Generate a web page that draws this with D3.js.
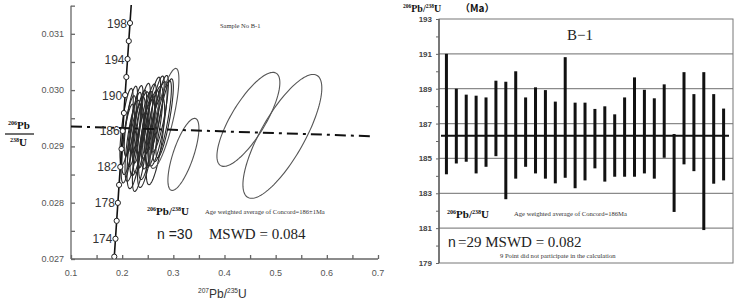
<!DOCTYPE html>
<html><head><meta charset="utf-8">
<script src="https://cdn.jsdelivr.net/npm/d3@7"></script>
<style>body{margin:0;background:#fff}svg{display:block}</style>
</head><body>
<script>
// ---------- Left chart: concordia ----------
const concAges = [170,172,174,176,178,180,182,184,186,188,190,192,194,196,198,200];
const concX = [0.18226,0.18459,0.18692,0.18926,0.19161,0.19396,0.19631,0.19867,0.20103,0.20340,0.20577,0.20815,0.21053,0.21292,0.21531,0.21771];
const concY = [0.026722,0.027041,0.027359,0.027678,0.027997,0.028316,0.028635,0.028954,0.029274,0.029593,0.029912,0.030232,0.030552,0.030871,0.031191,0.031511];
const concLabelAges = [174,178,182,186,190,194,198];
const markerAges = [172,174,176,178,180,182,184,186,188,190,192,194,196,198];
// ellipses: centre (207/235, 206/238), half extents, correlation
const ellCx = [0.2086,0.2134,0.217,0.2206,0.2242,0.2278,0.2302,0.2338,0.2374,0.241,0.2446,0.2482,0.2518,0.2554,0.259,0.2626,0.2662,0.2698,0.2734,0.2782,0.283,0.2254,0.2470,0.265,0.235,0.211,0.2826,0.3197,0.4467,0.5131];
const ellCy = [0.02935,0.02920,0.02945,0.02910,0.02930,0.02948,0.02918,0.02935,0.02925,0.02950,0.02930,0.02915,0.02945,0.02930,0.02955,0.02935,0.02960,0.02940,0.02958,0.02945,0.02950,0.02900,0.02905,0.02910,0.02890,0.02905,0.029497,0.028858,0.029480,0.029178];
const ellEx = [0.013,0.014,0.013,0.015,0.014,0.013,0.015,0.014,0.016,0.014,0.015,0.016,0.015,0.017,0.016,0.017,0.016,0.018,0.017,0.018,0.017,0.016,0.017,0.018,0.015,0.013,0.0283,0.0303,0.0615,0.0771];
const ellEy = [0.00068,0.00070,0.00062,0.00072,0.00066,0.00060,0.00070,0.00065,0.00072,0.00062,0.00068,0.00074,0.00066,0.00070,0.00068,0.00072,0.00065,0.00075,0.00068,0.00072,0.00070,0.00075,0.00078,0.00078,0.00070,0.00070,0.000888,0.00064,0.000835,0.00110];
const ellRho = [0.7,0.7,0.75,0.7,0.75,0.75,0.7,0.75,0.7,0.75,0.75,0.7,0.75,0.75,0.8,0.75,0.8,0.75,0.8,0.8,0.8,0.65,0.7,0.7,0.7,0.7,0.78,0.72,0.78,0.78];
const discordX = [0.10, 0.69];
const discordY = [0.029355, 0.029180];
const xTicks = [0.1,0.2,0.3,0.4,0.5,0.6,0.7];
const yTicks = [0.027,0.028,0.029,0.030,0.031];

// ---------- Right chart: weighted mean ----------
const barUpper = [191.0,189.0,188.66,188.6,188.5,189.46,189.4,190.0,188.5,189.08,188.92,188.26,190.81,188.2,188.2,187.84,187.99,187.53,188.5,189.65,188.94,188.45,189.25,186.4,189.95,188.69,189.95,188.69,187.86];
const barLower = [184.09,184.71,184.81,184.14,184.52,185.13,182.66,183.84,184.52,184.14,183.84,183.57,183.89,183.29,183.74,184.43,183.67,183.95,183.95,183.95,184.14,183.84,185.04,181.93,184.66,184.27,180.89,183.55,183.74];
const meanAge = 186.3;
const rTicks = [179,181,183,185,187,189,191,193];

const W = 737, H = 301;
const svg = d3.select("body").append("svg").attr("width", W).attr("height", H);

// ===== Left =====
const x = d3.scaleLinear().domain([0.1, 0.7]).range([71, 378]);
const y = d3.scaleLinear().domain([0.027, 0.0315]).range([259, 5.65]);

svg.append("clipPath").attr("id","lc").append("rect")
  .attr("x",71).attr("y",5).attr("width",310).attr("height",254);

const L = svg.append("g");
const xAx = L.append("g").attr("transform","translate(0,259)")
  .call(d3.axisBottom(x).tickValues(d3.range(0.1,0.7001,0.05)).tickSize(-4).tickFormat(d=>""));
const yAx = L.append("g").attr("transform","translate(71,0)")
  .call(d3.axisLeft(y).tickValues(d3.range(0.027,0.03151,0.0005)).tickSize(-4).tickFormat(d=>""));
[xAx,yAx].forEach(a=>{a.selectAll("path,line").attr("stroke","#666").attr("stroke-width",1.3);});
yAx.select(".domain").attr("d","M0,5.65V259");
xAx.select(".domain").attr("d","M71,0H378");
L.selectAll(".xt").data(xTicks).join("text").attr("class","xt")
  .attr("x",d=>x(d)).attr("y",276).attr("text-anchor","middle")
  .attr("font-family","Liberation Sans, Arial").attr("font-size",9).attr("fill","#555")
  .text(d=>d3.format(".1f")(d));
L.selectAll(".yt").data(yTicks).join("text").attr("class","yt")
  .attr("x",64).attr("y",d=>y(d)+3).attr("text-anchor","end")
  .attr("font-family","Liberation Sans, Arial").attr("font-size",9).attr("fill","#555")
  .text(d=>d3.format(".3f")(d));

const P = L.append("g").attr("clip-path","url(#lc)");
const line = d3.line().curve(d3.curveLinearClosed);
const ts = d3.range(0, 2*Math.PI, Math.PI/60);
ellCx.forEach((cx,i)=>{
  const a = ellEx[i], b = ellEy[i], r = ellRho[i];
  const pts = ts.map(t=>[x(cx + a*Math.cos(t)), y(ellCy[i] + b*(r*Math.cos(t) + Math.sqrt(1-r*r)*Math.sin(t)))]);
  P.append("path").attr("d", line(pts)).attr("fill","none")
    .attr("stroke", i<26 ? "#2a2a2a" : "#555").attr("stroke-width", 1.1);
});
P.append("path").attr("d", d3.line()(discordX.map((d,i)=>[x(d), y(discordY[i])])))
  .attr("stroke","#111").attr("stroke-width",2).attr("stroke-dasharray","11,5,3,5").attr("fill","none");
P.append("path").attr("d", d3.line().curve(d3.curveMonotoneY)(concX.map((d,i)=>[x(d), y(concY[i])])))
  .attr("stroke","#111").attr("stroke-width",1.6).attr("fill","none");
markerAges.forEach(a=>{
  const i = concAges.indexOf(a);
  P.append("circle").attr("cx",x(concX[i])).attr("cy",y(concY[i])).attr("r",2.6)
    .attr("fill","#fff").attr("stroke","#222").attr("stroke-width",1);
});
concLabelAges.forEach(a=>{
  const i = concAges.indexOf(a);
  L.append("text").attr("x",x(concX[i])-3).attr("y",y(concY[i])+4.5).attr("text-anchor","end")
    .attr("font-family","Liberation Sans, Arial").attr("font-size",12).attr("fill","#333").text(a);
});

function supText(g, xx, yy, parts, opts){
  const t = g.append("text").attr("x",xx).attr("y",yy)
    .attr("font-family",opts.family).attr("font-size",opts.size).attr("fill",opts.fill||"#111")
    .attr("font-weight",opts.weight||"normal");
  parts.forEach(p=>{
    const s = t.append("tspan").text(p[0]);
    if (p[1]==="sup") s.attr("font-size",opts.size*0.55).attr("dy",-opts.size*0.4);
    else if (p[1]==="back") s.attr("dy",opts.size*0.4);
  });
  return t;
}
supText(L, 8, 129, [["206","sup"],["Pb","back"]], {family:"Liberation Serif, Times New Roman", size:11, weight:"bold"});
L.append("line").attr("x1",5).attr("x2",34).attr("y1",134).attr("y2",134).attr("stroke","#111").attr("stroke-width",1.2);
supText(L, 10, 146, [["238","sup"],["U","back"]], {family:"Liberation Serif, Times New Roman", size:11, weight:"bold"});
supText(L, 198, 298, [["207","sup"],["Pb/","back"],["235","sup"],["U","back"]], {family:"Liberation Sans, Arial", size:12, fill:"#333"});
L.append("text").attr("x",220).attr("y",28).attr("font-family","Liberation Serif, Times New Roman").attr("font-size",6.5).attr("fill","#333").text("Sample No B-1");
supText(L, 147, 215, [["206","sup"],["Pb/","back"],["238","sup"],["U","back"]], {family:"Liberation Serif, Times New Roman", size:11, weight:"bold"});
L.append("text").attr("x",205).attr("y",214).attr("font-family","Liberation Serif, Times New Roman").attr("font-size",6.6).attr("fill","#333").text("Age weighted average of Concord=186±1Ma");
L.append("text").attr("x",157).attr("y",239).attr("font-family","Liberation Sans, Arial").attr("font-size",14).attr("fill","#222").text("n =30");
L.append("text").attr("x",209).attr("y",239).attr("font-family","Liberation Serif, Times New Roman").attr("font-size",15).attr("fill","#222").text("MSWD = 0.084");

// ===== Right =====
const rx = d3.scaleLinear().domain([0.25, 29.95]).range([439, 733]);
const ry = d3.scaleLinear().domain([179, 193]).range([263, 19]);
const R = svg.append("g");
R.selectAll(".g").data(rTicks.filter(d=>d>179 && d<193)).join("line").attr("class","g")
  .attr("x1",439).attr("x2",733).attr("y1",d=>ry(d)).attr("y2",d=>ry(d))
  .attr("stroke","#8a8a8a").attr("stroke-width",1.2);
R.append("rect").attr("x",439).attr("y",ry(193)).attr("width",294).attr("height",ry(179)-ry(193))
  .attr("fill","none").attr("stroke","#777").attr("stroke-width",1);
const rAx = R.append("g").attr("transform","translate(439,0)")
  .call(d3.axisLeft(ry).tickValues(d3.range(179,193.01,1)).tickSize(3).tickFormat(""));
rAx.selectAll("line").attr("stroke","#666");
rAx.select(".domain").attr("stroke","#555").attr("stroke-width",1.3).attr("d","M0,19V263");
R.selectAll(".rt").data(rTicks).join("text").attr("class","rt")
  .attr("x",432).attr("y",d=>ry(d)+3).attr("text-anchor","end")
  .attr("font-family","Liberation Sans, Arial").attr("font-size",8).attr("font-weight","bold").attr("fill","#444")
  .text(d=>d);
R.selectAll(".bar").data(barUpper).join("rect").attr("class","bar")
  .attr("x",(d,i)=>rx(i+1)-1.5).attr("width",3)
  .attr("y",d=>ry(d)).attr("height",(d,i)=>ry(barLower[i])-ry(d)).attr("fill","#111");
R.append("line").attr("x1",441).attr("x2",729).attr("y1",ry(meanAge)).attr("y2",ry(meanAge))
  .attr("stroke","#111").attr("stroke-width",2);
supText(R, 403, 12, [["206","sup"],["Pb/","back"],["238","sup"],["U","back"]], {family:"Liberation Serif, Times New Roman", size:10, weight:"bold"});
R.append("text").attr("x",460).attr("y",12).attr("font-family","Noto Sans CJK SC, Liberation Serif").attr("font-size",10).attr("font-weight","bold").attr("fill","#111").text("（Ma）");
R.append("text").attr("x",580).attr("y",40).attr("text-anchor","middle").attr("font-family","Liberation Serif, Times New Roman").attr("font-size",15).attr("fill","#222").text("B−1");
supText(R, 447, 218, [["206","sup"],["Pb/","back"],["238","sup"],["U","back"]], {family:"Liberation Serif, Times New Roman", size:11, weight:"bold"});
R.append("text").attr("x",514).attr("y",216).attr("font-family","Liberation Serif, Times New Roman").attr("font-size",6.6).attr("fill","#333").text("Age weighted average of Concord=186Ma");
R.append("text").attr("x",448).attr("y",247).attr("font-family","Liberation Sans, Arial").attr("font-size",14).attr("fill","#222").text("n");
R.append("text").attr("x",458).attr("y",247).attr("font-family","Liberation Serif, Times New Roman").attr("font-size",15).attr("fill","#222").text("=29  MSWD = 0.082");
R.append("text").attr("x",500).attr("y",258).attr("font-family","Liberation Serif, Times New Roman").attr("font-size",6.6).attr("fill","#333").text("9 Point  did not participate in the calculation");
</script>
</body></html>
